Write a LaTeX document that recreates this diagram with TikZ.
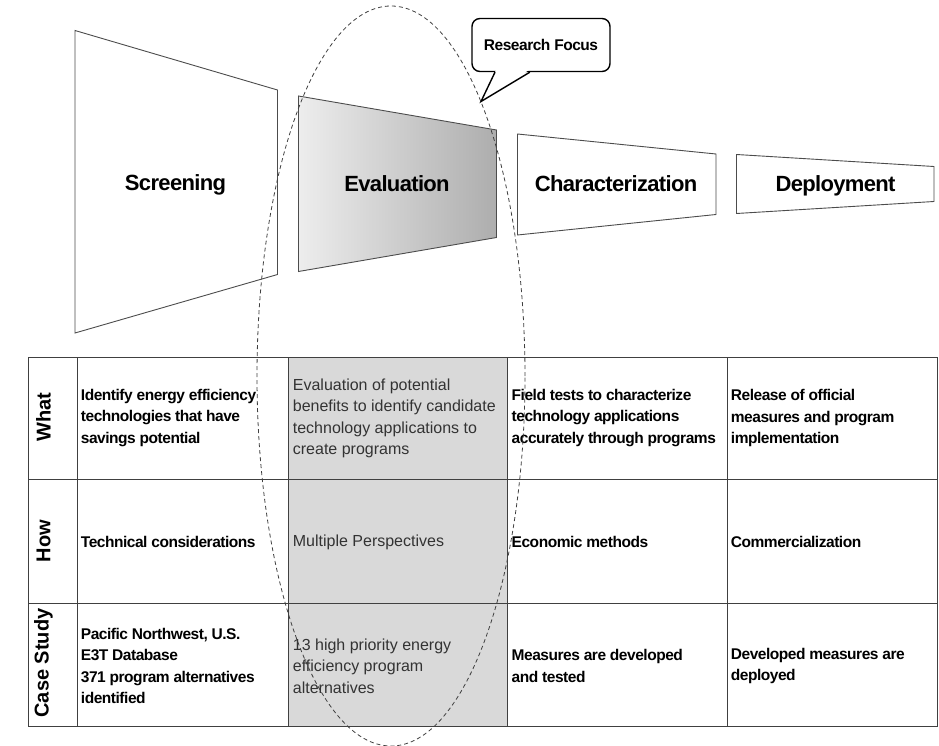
\documentclass[tikz,border=0pt]{standalone}
\usepackage{fontspec}
\setmainfont{Liberation Sans}
\newfontfamily\cellfont[LetterSpace=-3]{Liberation Sans}
\usetikzlibrary{calc}

\tikzset{
  stage/.style={draw=black!70, line width=0.9pt, fill=white},
  evalstage/.style={draw=black!70, line width=0.9pt, left color=black!7, right color=black!32},
  stagelabel/.style={anchor=base, font=\cellfont\fontsize{22}{24}\selectfont\bfseries, inner sep=0pt},
  gridline/.style={draw=black!75, line width=1pt},
  celltext/.style={anchor=west, align=left, inner sep=0pt,
    font=\cellfont\fontsize{15.5}{21.5}\selectfont\bfseries},
  evaltext/.style={anchor=west, align=left, inner sep=0pt, text=black!80,
    font=\fontsize{16}{21.5}\selectfont},
  rowlabel/.style={rotate=90, inner sep=0pt, font=\fontsize{20}{24}\selectfont\bfseries},
  callout/.style={draw=black, line width=1.4pt, fill=white, rounded corners=8pt,
    minimum width=138pt, minimum height=53pt, inner sep=0pt,
    font=\cellfont\fontsize{15.5}{17}\selectfont\bfseries},
  focus/.style={draw=black!75, line width=0.8pt, dash pattern=on 4pt off 3pt},
}

\begin{document}
\begin{tikzpicture}[x=1pt,y=-1pt]
\useasboundingbox (0,0) rectangle (939,746);

% ---- process stages ----
\draw[stage] (75,30.5) -- (277.5,90) -- (277.5,274.5) -- (75,333) -- cycle;
\node[stagelabel] (screening) at (175.5,191) {Screening};

\draw[evalstage] (298.5,96) -- (496.5,130) -- (496.5,237.5) -- (298.5,271.5) -- cycle;
\node[stagelabel] (evaluation) at (397,191.5) {Evaluation};

\draw[stage] (517.5,134) -- (716,154) -- (716,214.5) -- (517.5,235) -- cycle;
\node[stagelabel] (characterization) at (616,192) {Characterization};

\draw[stage] (736.5,154.5) -- (934,166.5) -- (934,201.5) -- (736.5,213.5) -- cycle;
\node[stagelabel] (deployment) at (835.5,192) {Deployment};

% ---- table ----
\fill[black!15] (288.7,357) rectangle (507.7,726.7);
\foreach \yy in {357,479.3,603.3,726.7}
  \draw[gridline] (28,\yy) -- (937.3,\yy);
\foreach \xx in {28,77.5,288.7,507.7,727.3,937.3}
  \draw[gridline] (\xx,357) -- (\xx,726.7);

% row headings
\node[rowlabel] (what) at (43.5,417) {What};
\node[rowlabel] (how) at (43.5,541) {How};
\node[rowlabel] (case) at (43.5,663) {Case Study};

% row: What
\node[celltext] (w1) at (80.7,418) {Identify energy efficiency\\technologies that have\\savings potential};
\node[evaltext] (w2) at (292.7,418.5) {Evaluation of potential\\benefits to identify candidate\\technology applications to\\create programs};
\node[celltext] (w3) at (511.5,418) {Field tests to characterize\\technology applications\\accurately through programs};
\node[celltext] (w4) at (730.7,418) {Release of official\\measures and program\\implementation};

% row: How
\node[celltext] (h1) at (80.7,542) {Technical considerations};
\node[evaltext] (h2) at (292.7,542) {Multiple Perspectives};
\node[celltext] (h3) at (511.5,542) {Economic methods};
\node[celltext] (h4) at (730.7,542) {Commercialization};

% row: Case Study
\node[celltext] (c1) at (80.7,666) {Pacific Northwest, U.S.\\E3T Database\\371 program alternatives\\identified};
\node[evaltext] (c2) at (292.7,666) {13 high priority energy\\efficiency program\\alternatives};
\node[celltext] (c3) at (511.5,666) {Measures are developed\\and tested};
\node[celltext] (c4) at (730.7,666) {Developed measures are\\deployed};

% ---- research focus callout ----
\node[callout] (rf) at (541,45) {Research Focus};
\coordinate (tip) at (481,101.5);
\fill[white] (496,70) -- (tip) -- (529,70) -- cycle;
\draw[line width=1.4pt, line join=miter] ($(rf.south west)!0.17!(rf.south east)$) -- (tip) -- ($(rf.south west)!0.42!(rf.south east)$);

% ---- focus outline ----
\draw[focus] (391,376) ellipse [x radius=134pt, y radius=370pt];
\end{tikzpicture}
\end{document}
